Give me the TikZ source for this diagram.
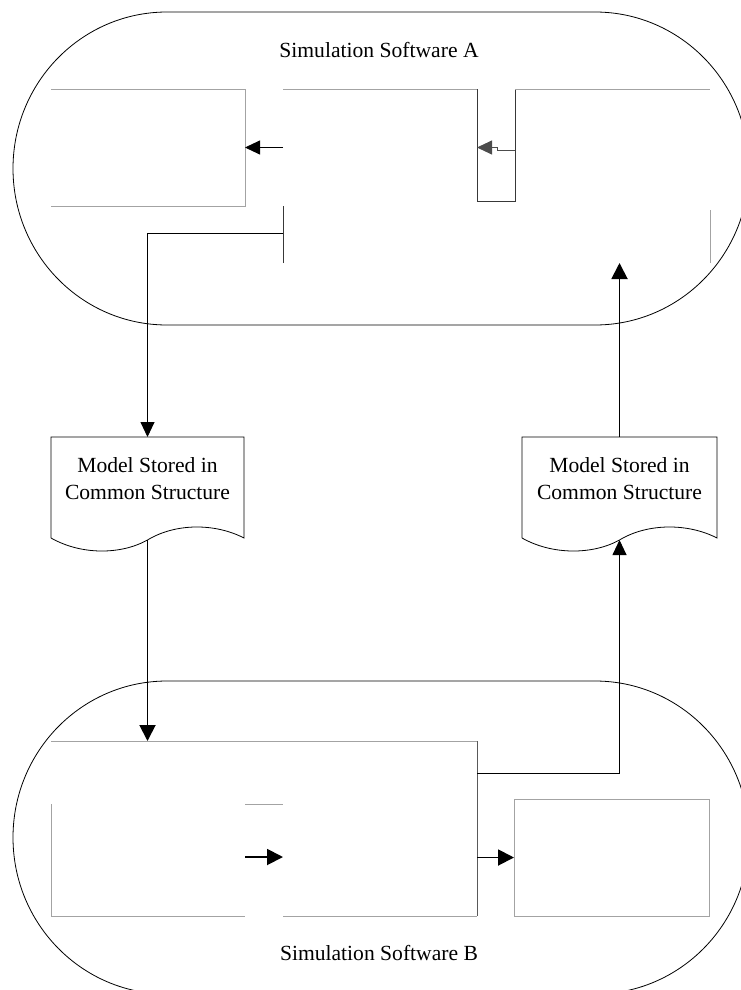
\documentclass[tikz,border=0pt]{standalone}
\usepackage{fontspec}
\setmainfont{Liberation Serif}
\usetikzlibrary{arrows.meta,calc}

% document symbol: flat top, wavy bottom
\newcommand\docoutline[1]{%
  \draw[docline] (#1.south west) -- (#1.north west) -- (#1.north east) -- (#1.south east)
    .. controls +(-29,-15) and +(28,-17) .. ($(#1.south)+(0,2)$)
    .. controls +(-27,15) and +(30,17) .. (#1.south west);}

\begin{document}
\begin{tikzpicture}[x=1pt,y=-1pt,
  stadium/.style={draw=black, line width=0.8pt},
  area/.style={draw=none, inner sep=0pt, outer sep=0pt},
  lightedge/.style={draw=black!36, line width=1pt},
  darkedge/.style={draw=black!78, line width=1pt},
  docline/.style={draw=black, line width=0.8pt},
  doctext/.style={align=center, inner sep=0pt, font=\fontsize{21.6}{27}\selectfont},
  title/.style={inner sep=0pt, font=\fontsize{21.6}{27}\selectfont},
  conn/.style={draw=black, line width=0.9pt, -{Triangle[length=15pt,width=14pt]}},
  heavy/.style={draw=black, line width=1.9pt, -{Triangle[length=16pt,width=16pt]}}]

\useasboundingbox (0,0) rectangle (740,990);

% the two software enclosures
\draw[stadium] (167,12) -- (595,12)
  arc[start angle=90, end angle=-90, x radius=154pt, y radius=156.5pt]
  -- (167,325)
  arc[start angle=270, end angle=90, x radius=154pt, y radius=156.5pt] -- cycle;
\draw[stadium] (167,681) -- (595,681)
  arc[start angle=90, end angle=-90, x radius=154pt, y radius=156.5pt]
  -- (167,994)
  arc[start angle=270, end angle=90, x radius=154pt, y radius=156.5pt] -- cycle;

\node[title] (titleA) at (379,50) {Simulation Software A};
\node[title] (titleB) at (379,953) {Simulation Software B};

% software A blocks
\node[area, minimum width=194pt, minimum height=117pt] (a1) at (148,147.5) {};
\node[area, minimum width=194pt, minimum height=174pt] (a2) at (380,176) {};
\node[area, minimum width=38pt,  minimum height=112pt] (a3) at (496,145) {};
\node[area, minimum width=195pt, minimum height=174pt] (a4) at (612.5,176) {};
\coordinate (a2out) at (283,233);

\draw[lightedge] (a1.north west) -- (a1.north east) -- (a1.south east) -- (a1.south west);
\draw[lightedge] (a2.north west) -- (a2.north east);
\draw[darkedge] (a2.south west) -- (a2.south west |- a1.south east);
\draw[darkedge] (a3.north west) -- (a3.south west) -- (a3.south east) -- (a3.north east);
\draw[lightedge] (a4.north west) -- (a4.north east);
\draw[lightedge] (a4.south east) -- ++(0,-53);

% shared model files
\node[area, minimum width=193pt, minimum height=101pt] (docL) at (147.5,487.5) {};
\node[area, minimum width=195pt, minimum height=101pt] (docR) at (619.5,487.5) {};
\docoutline{docL}
\docoutline{docR}
\node[doctext] (docLtext) at ([yshift=8.5pt]docL.center) {Model Stored in\\Common Structure};
\node[doctext] (docRtext) at ([yshift=8.5pt]docR.center) {Model Stored in\\Common Structure};

% software B blocks
\node[area, minimum width=426pt, minimum height=175pt] (bbig) at (264,828.5) {};
\node[area, minimum width=194pt, minimum height=112pt] (b1) at (148,860) {};
\node[area, minimum width=194pt, minimum height=112pt] (b2) at (380,860) {};
\node[area, minimum width=195pt, minimum height=117pt] (b3) at (611.5,857.5) {};
\coordinate (b2out) at (477,773);

\draw[lightedge] (bbig.north west) -- (bbig.north east);
\draw[darkedge, draw=black!65] (bbig.north east) -- (bbig.south east);
\draw[lightedge] (b1.north west) -- (b1.south west) -- (b1.south east);
\draw[lightedge] (b1.north east) -- (b2.north west);
\draw[lightedge] (b2.south west) -- (b2.south east);
\draw[lightedge] (b3.north west) rectangle (b3.south east);

% flows inside A
\draw[conn] (a1.east -| a2.west) -- (a1.east);
\draw[conn, draw=black!70] (a3.east |- a1.east) ++(0,2.5) -- ++(-18,0) -- ++(0,-2.5) -- (a3.west |- a1.east);

% A -> file -> B
\draw[conn] (a2out) -| (docL.north);
\draw[heavy] ([yshift=-2pt]docL.south) -- (docL.south |- bbig.north);

% flows inside B
\draw[heavy] ([yshift=3pt]b1.east) -- ([yshift=3pt]b2.west);
\draw[heavy] (b3.west -| b2.east) -- (b3.west);

% B -> file -> A
\draw[conn] (b2out) -| ([yshift=-2pt]docR.south);
\draw[heavy] (docR.north) -- (docR.north |- a4.south);

\end{tikzpicture}
\end{document}
